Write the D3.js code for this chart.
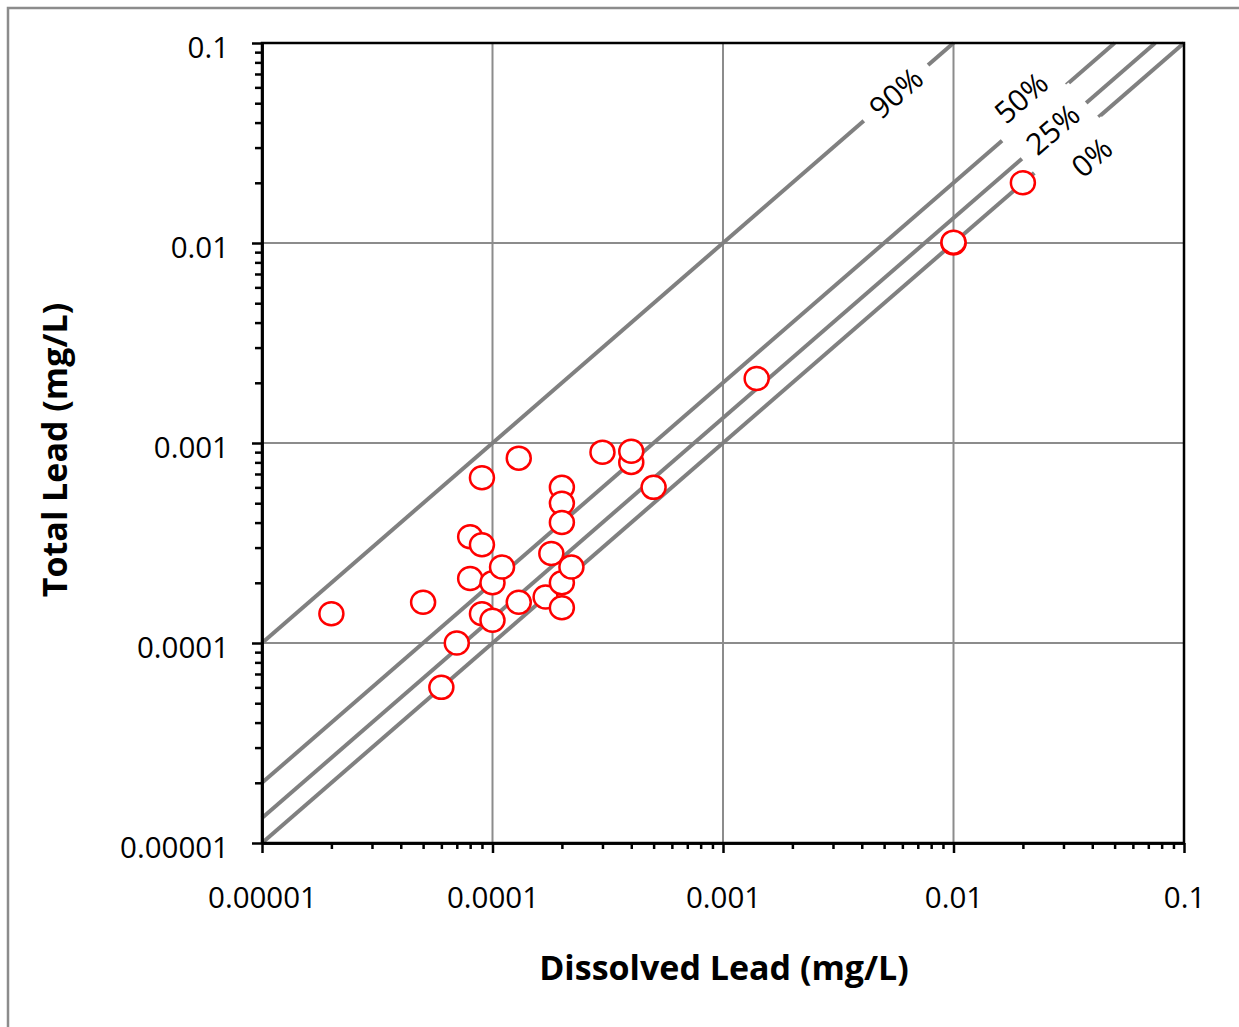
<!DOCTYPE html>
<html>
<head>
<meta charset="utf-8">
<script src="https://cdn.jsdelivr.net/npm/d3@7"></script>
<style>
  body { margin: 0; background: #fff; }
  svg { display: block; }
</style>
</head>
<body>
<svg id="chart"></svg>
<script>
const width = 1239;
const height = 1027;
const margin = { top: 43, right: 55, bottom: 184, left: 262 };

// data (mg/L)
const dissolved = [
  0.00002, 0.00005, 0.00006, 0.00007, 0.00008, 0.00008, 0.00009, 0.00009,
  0.00009, 0.0001, 0.0001, 0.00011, 0.00013, 0.00013, 0.00017, 0.00018,
  0.0002, 0.0002, 0.0002, 0.0002, 0.0002, 0.00022, 0.0003, 0.0004,
  0.0004, 0.0005, 0.0014, 0.01, 0.01, 0.02
];
const total = [
  0.00014, 0.00016, 0.00006, 0.0001, 0.00021, 0.00034, 0.00031, 0.00067,
  0.00014, 0.0002, 0.00013, 0.00024, 0.00084, 0.00016, 0.00017, 0.00028,
  0.0006, 0.0005, 0.0004, 0.0002, 0.00015, 0.00024, 0.0009, 0.0008,
  0.00091, 0.0006, 0.0021, 0.01, 0.0101, 0.02
];

// reference lines: percent of total lead that is particulate
const percents = [0, 25, 50, 90];
const percentLabels = ["0%", "25%", "50%", "90%"];

const majorTicks = [0.00001, 0.0001, 0.001, 0.01, 0.1];
const tickLabels = ["0.00001", "0.0001", "0.001", "0.01", "0.1"];
const minorMultipliers = [2, 3, 4, 5, 6, 7, 8, 9];

const xTitle = "Dissolved Lead (mg/L)";
const yTitle = "Total Lead (mg/L)";

const chartWidth = width - margin.left - margin.right;
const chartHeight = height - margin.top - margin.bottom;

const svg = d3.select("#chart").attr("width", width).attr("height", height);

// outer chart border
svg.append("rect")
  .attr("x", 8).attr("y", 8)
  .attr("width", width + 20).attr("height", height + 20)
  .attr("fill", "none")
  .attr("stroke", "#8c8c8c")
  .attr("stroke-width", 2.5);

const chart = svg.append("g")
  .attr("transform", `translate(${margin.left}, ${margin.top})`);

const xScale = d3.scaleLog().domain([0.00001, 0.1]).range([0, chartWidth]);
const yScale = d3.scaleLog().domain([0.00001, 0.1]).range([chartHeight, 0]);

const minorTicks = [];
majorTicks.slice(0, -1).forEach((d) => {
  minorMultipliers.forEach((m) => minorTicks.push(d * m));
});

// gridlines
const gridVals = majorTicks.slice(1, -1);
chart.selectAll(".vgrid").data(gridVals).enter().append("line")
  .attr("x1", (d) => xScale(d)).attr("x2", (d) => xScale(d))
  .attr("y1", 0).attr("y2", chartHeight)
  .attr("stroke", "#8c8c8c").attr("stroke-width", 2);
chart.selectAll(".hgrid").data(gridVals).enter().append("line")
  .attr("y1", (d) => yScale(d)).attr("y2", (d) => yScale(d))
  .attr("x1", 0).attr("x2", chartWidth)
  .attr("stroke", "#8c8c8c").attr("stroke-width", 2);

// reference lines
const line = d3.line().x((d) => xScale(d[0])).y((d) => yScale(d[1]));
const refData = percents.map((p) => {
  const ratio = 1 / (1 - p / 100);
  const xEnd = Math.min(0.1, 0.1 / ratio);
  return { p, ratio, pts: [[0.00001, 0.00001 * ratio], [xEnd, xEnd * ratio]] };
});
chart.selectAll(".ref").data(refData).enter().append("path")
  .attr("d", (d) => line(d.pts))
  .attr("fill", "none")
  .attr("stroke", "#808080")
  .attr("stroke-width", 4);

// line labels: position along each line (dissolved value) and offset across it
const labelPlace = {
  0: { at: 0.0336, off: -26 },
  25: { at: 0.0273, off: 2 },
  50: { at: 0.0224, off: 20 },
  90: { at: 0.00563, off: 0 }
};
const angle = Math.atan2(
  yScale(0.01) - yScale(0.1), xScale(0.1) - xScale(0.01)
);
const deg = (-angle * 180) / Math.PI;
const nx = -Math.sin(angle), ny = -Math.cos(angle);

const labelG = chart.selectAll(".plabel").data(refData).enter().append("g")
  .attr("transform", (d) => {
    const pl = labelPlace[d.p];
    const cx = xScale(pl.at) + nx * pl.off;
    const cy = yScale(pl.at * d.ratio) + ny * pl.off;
    return `translate(${cx}, ${cy}) rotate(${deg})`;
  });
labelG.append("text")
  .attr("text-anchor", "middle")
  .attr("dy", "0.36em")
  .style("font-family", "'Open Sans', sans-serif")
  .style("font-size", "30px")
  .attr("fill", "#000")
  .text((d) => percentLabels[percents.indexOf(d.p)]);
labelG.each(function () {
  const g = d3.select(this);
  const w = g.select("text").node().getComputedTextLength() + 26;
  g.insert("rect", "text")
    .attr("x", -w / 2).attr("y", -25)
    .attr("width", w).attr("height", 50)
    .attr("fill", "#fff");
});

// data points
chart.selectAll(".dot").data(dissolved).enter().append("ellipse")
  .attr("cx", (d) => xScale(d))
  .attr("cy", (d, i) => yScale(total[i]))
  .attr("rx", 12).attr("ry", 11.5)
  .attr("fill", "#fff")
  .attr("stroke", "#ff0000")
  .attr("stroke-width", 2.5);

// plot frame
chart.append("rect")
  .attr("width", chartWidth).attr("height", chartHeight)
  .attr("fill", "none").attr("stroke", "#000").attr("stroke-width", 2.5);

const fmt = (d) => tickLabels[majorTicks.indexOf(d)];

function styleAxis(g) {
  g.select(".domain").attr("stroke", "#000").attr("stroke-width", 2.5);
  g.selectAll(".tick line").attr("stroke", "#000").attr("stroke-width", 2.5);
  g.selectAll("text")
    .attr("fill", "#000")
    .style("font-family", "'Open Sans', sans-serif")
    .style("font-size", "29.5px");
}

chart.append("g")
  .attr("transform", `translate(0, ${chartHeight})`)
  .call(d3.axisBottom(xScale).tickValues(minorTicks).tickSize(6)
    .tickSizeOuter(0).tickFormat(""))
  .call(styleAxis);
chart.append("g")
  .attr("transform", `translate(0, ${chartHeight})`)
  .call(d3.axisBottom(xScale).tickValues(majorTicks).tickSize(10)
    .tickSizeOuter(0).tickPadding(34).tickFormat(fmt))
  .call(styleAxis);

chart.append("g")
  .call(d3.axisLeft(yScale).tickValues(minorTicks).tickSize(7)
    .tickSizeOuter(0).tickFormat(""))
  .call(styleAxis);
chart.append("g")
  .call(d3.axisLeft(yScale).tickValues(majorTicks).tickSize(10)
    .tickSizeOuter(0).tickPadding(23).tickFormat(fmt))
  .call(styleAxis)
  .selectAll("text").attr("dy", "0.48em");

// axis titles
svg.append("text")
  .attr("x", margin.left + chartWidth / 2 + 1)
  .attr("y", 980)
  .attr("text-anchor", "middle")
  .style("font-family", "'Open Sans', sans-serif")
  .style("font-size", "34px")
  .style("font-weight", "bold")
  .text(xTitle);

svg.append("text")
  .attr("transform", `translate(67, 450) rotate(-90)`)
  .attr("text-anchor", "middle")
  .style("font-family", "'Open Sans', sans-serif")
  .style("font-size", "34px")
  .style("font-weight", "bold")
  .text(yTitle);
</script>
</body>
</html>
